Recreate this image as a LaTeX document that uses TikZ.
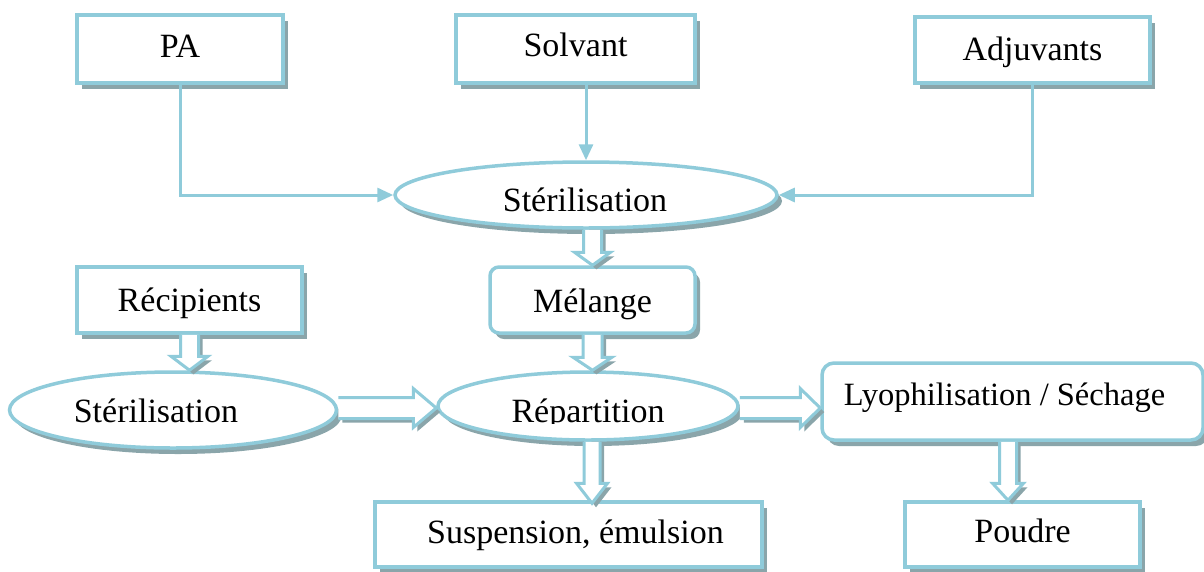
\documentclass[tikz,border=0pt]{standalone}
\usepackage{fontspec}
\setmainfont{Liberation Serif}
\usetikzlibrary{shapes.geometric,shadows,calc,arrows.meta}
\definecolor{aqua}{HTML}{8FCBDA}
\definecolor{shade}{HTML}{8AA5AA}

% zero-size label: #1 horizontal shift, #2 baseline below the node centre, #3 text
\newcommand\tx[3]{\makebox[0pt]{\smash{\raisebox{-#2}{\hspace*{#1}#3\hspace*{-#1}}}}}

% hollow block arrow pointing down: #1 start, #2 tip (its y), #3 half shaft, #4 half head, #5 head length
\newcommand\varrow[5]{%
  \draw[blockarrow] let \p1=(#1), \p2=(#2) in
    (\x1-#3,\y1) -- (\x1-#3,\y2+#5) -- (\x1-#4,\y2+#5) -- (\x1,\y2)
    -- (\x1+#4,\y2+#5) -- (\x1+#3,\y2+#5) -- (\x1+#3,\y1);}
% hollow block arrow pointing right: #1 start, #2 tip (its x)
\newcommand\harrow[5]{%
  \draw[blockarrow] let \p1=(#1), \p2=(#2) in
    (\x1,\y1+#3) -- (\x2-#5,\y1+#3) -- (\x2-#5,\y1+#4) -- (\x2,\y1)
    -- (\x2-#5,\y1-#4) -- (\x2-#5,\y1-#3) -- (\x1,\y1-#3);}

\tikzset{
  base/.style={draw=aqua, line width=3.5pt, fill=white, inner sep=0pt,
    font=\fontsize{34}{38}\selectfont,
    drop shadow={shadow xshift=5pt, shadow yshift=-6pt, fill=shade, opacity=1}},
  box/.style={base, rectangle},
  rbox/.style={base, rectangle, rounded corners=9pt},
  oval/.style={base, ellipse},
  link/.style={draw=aqua, line width=3pt, -{Triangle[length=16pt,width=14pt]}},
  blockarrow/.style={draw=aqua, line width=3pt, fill=white, line join=miter,
    drop shadow={shadow xshift=4pt, shadow yshift=-4pt, fill=shade, opacity=1}},
}

\begin{document}
\begin{tikzpicture}[x=1pt,y=-1pt]
\useasboundingbox (0,0) rectangle (1204,571);

% inputs
\node[box, minimum width=206pt, minimum height=68pt] (pa) at (180,49) {\tx{0pt}{8pt}{PA}};
\node[box, minimum width=239pt, minimum height=68pt] (sol) at (575.5,49) {\tx{0pt}{7pt}{Solvant}};
\node[box, minimum width=235pt, minimum height=66pt] (adj) at (1032.5,50) {\tx{0pt}{10pt}{Adjuvants}};

% sterilisation and mixing
\node[oval, minimum width=382pt, minimum height=66pt] (st1) at (586,195) {\tx{-1pt}{16pt}{Stérilisation}};
\node[rbox, minimum width=205pt, minimum height=66pt] (mel) at (592.5,300) {\tx{0pt}{12pt}{Mélange}};
\node[box, minimum width=225pt, minimum height=66pt] (rec) at (189.5,300) {\tx{0pt}{11pt}{Récipients}};
\node[oval, minimum width=327pt, minimum height=76pt] (st2) at (173,410) {\tx{-17pt}{12pt}{Stérilisation}};

% filling
\node[oval, minimum width=300pt, minimum height=68pt] (rep) at (588,406) {};
\begin{scope}
  \clip (430,360) rectangle (750,423);
  \node[inner sep=0pt, font=\fontsize{34}{38}\selectfont] (reptext) at (rep.center) {\tx{0pt}{16pt}{Répartition}};
\end{scope}

% outputs
\node[rbox, rounded corners=12pt, minimum width=381pt, minimum height=77pt] (lyo) at (1012.5,401.5)
  {\fontsize{32.5}{36}\selectfont\tx{-8pt}{3.5pt}{Lyophilisation / Séchage}};
\node[box, minimum width=387pt, minimum height=65pt] (sus) at (568.5,534.5) {\tx{7pt}{8.5pt}{Suspension, émulsion}};
\node[box, minimum width=235pt, minimum height=65pt] (pou) at (1022.5,534.5) {\tx{0pt}{8pt}{Poudre}};

% thin connectors into the first sterilisation
\draw[link] (pa.south) -- (pa.south |- st1.west) -- (st1.west);
\draw[link] (sol.south -| st1.north) -- (st1.north);
\draw[link] (adj.south) -- (adj.south |- st1.east) -- (st1.east);

% block arrows
\varrow{st1.south -| mel.north}{mel.north}{9pt}{18pt}{13pt}
\varrow{rec.south}{st2.north}{9pt}{18.5pt}{14pt}
\varrow{mel.south}{rep.north}{9.5pt}{19.5pt}{13pt}
\varrow{$(rep.south)+(4,0)$}{$(sus.north)+(0,3)$}{8pt}{15.5pt}{20pt}
\varrow{$(lyo.south)+(-4.5,0)$}{pou.north}{8.5pt}{15.5pt}{17pt}
\harrow{$(st2.east)+(0,-2)$}{rep.west}{10.5pt}{19.5pt}{23pt}
\harrow{$(rep.east)+(0,2)$}{lyo.west}{10.5pt}{19.5pt}{20pt}
\end{tikzpicture}
\end{document}
